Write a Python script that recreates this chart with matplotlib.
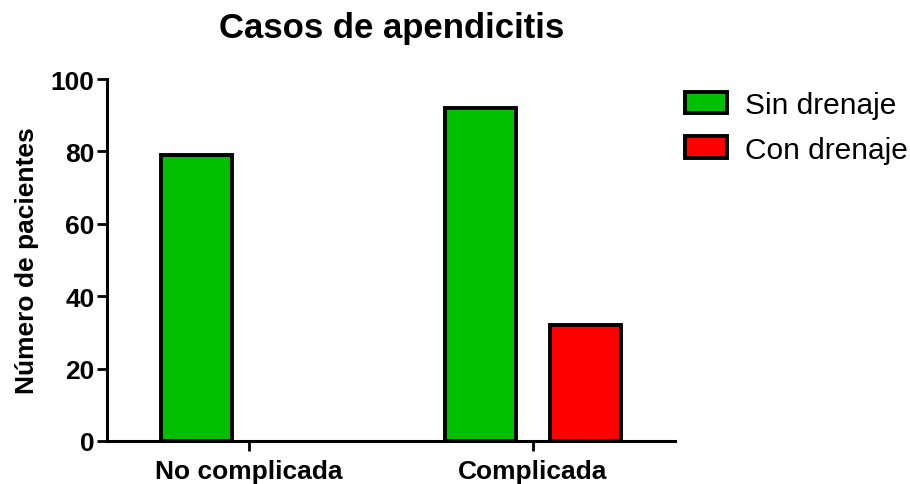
import matplotlib.pyplot as plt
from matplotlib.patches import Patch
import numpy as np

plt.rcParams['font.family'] = ['Liberation Sans', 'DejaVu Sans']

categories = ['No complicada', 'Complicada']
sin_drenaje = [79, 92]
con_drenaje = [0, 32]
series_names = ['Sin drenaje', 'Con drenaje']
colors = ['#00c000', '#ff0000']
yticks = [0, 20, 40, 60, 80, 100]

fig = plt.figure(figsize=(9.1, 4.85), dpi=100)
ax = fig.add_axes([0.1176, 0.0887, 0.6242, 0.7463])

x = np.arange(len(categories))
w = 0.25
off = 0.185
b1 = ax.bar(x - off, sin_drenaje, w, color=colors[0], edgecolor='black', linewidth=2.8)
b2 = ax.bar(x + off, con_drenaje, w, color=colors[1], edgecolor='black', linewidth=2.8)
# empty bars should not leave an outline on the baseline
for p in list(b1) + list(b2):
    if p.get_height() == 0:
        p.set_visible(False)

ax.set_xlim(-0.5, 1.5)
ax.set_ylim(0, 100)
ax.set_yticks(yticks)
ax.set_xticks(x)
ax.set_xticklabels(categories, fontsize=19, fontweight='bold')
ax.set_yticklabels([str(t) for t in yticks], fontsize=19, fontweight='bold')
ax.tick_params(axis='both', width=2, length=7, direction='out')
ax.tick_params(axis='x', pad=6)
ax.tick_params(axis='y', pad=2)
for s in ['top', 'right']:
    ax.spines[s].set_visible(False)
for s in ['left', 'bottom']:
    ax.spines[s].set_linewidth(2.2)

ax.set_ylabel('Número de pacientes', fontsize=19, fontweight='bold')
ax.yaxis.set_label_coords(-0.12, 0.5)
fig.suptitle('Casos de apendicitis', fontsize=25, fontweight='bold', x=0.43, y=0.975)

handles = [Patch(facecolor=c, edgecolor='black', linewidth=2.8) for c in colors]
fig.legend(handles=handles, labels=series_names, loc='upper left',
           bbox_to_anchor=(0.7527, 0.81), frameon=False, fontsize=21.5,
           borderpad=0, borderaxespad=0,
           handlelength=1.4, handleheight=0.73, handletextpad=0.6, labelspacing=0.55)

fig.savefig('out.png', dpi=100)
